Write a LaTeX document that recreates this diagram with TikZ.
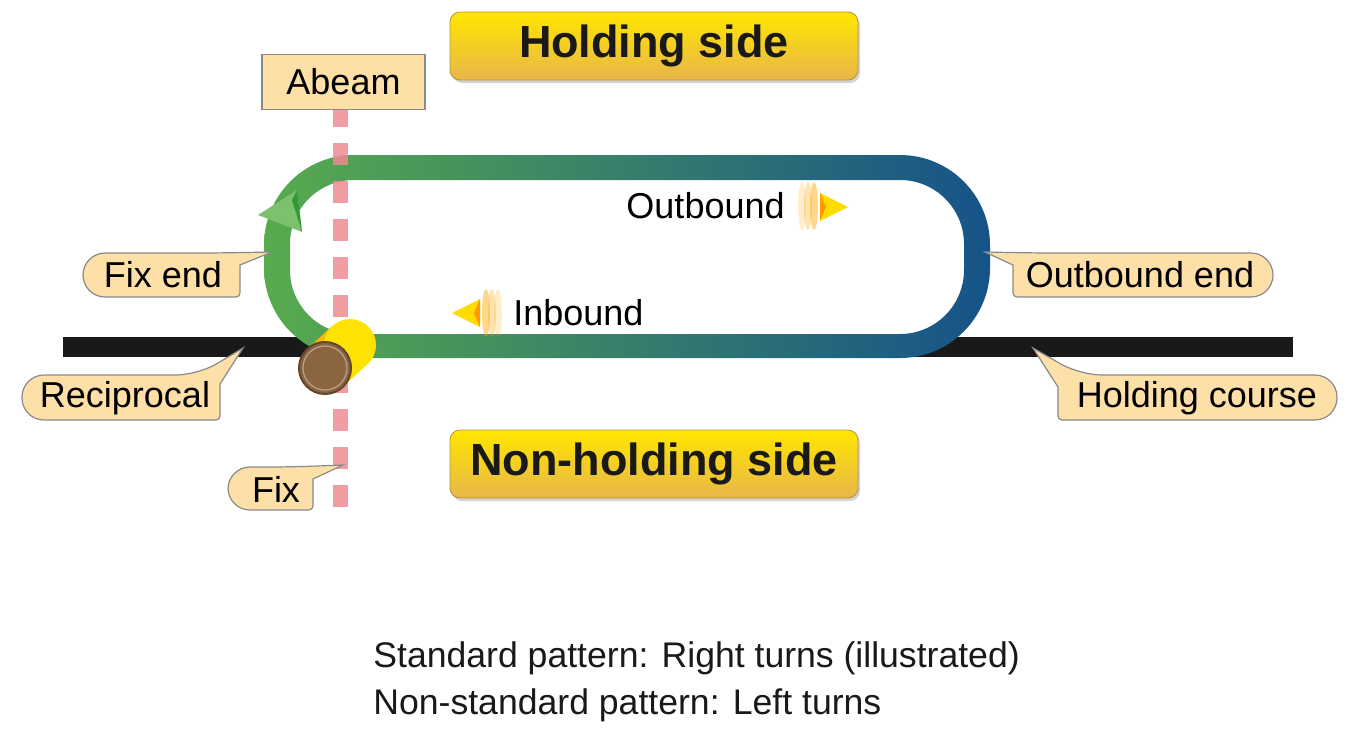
\documentclass[tikz,border=0pt]{standalone}
\usepackage{fontspec}
\setmainfont{Liberation Sans}
\usetikzlibrary{shadows}
\definecolor{tg}{HTML}{5CB04A}
\definecolor{tb}{HTML}{0F4A8F}
\definecolor{cfill}{HTML}{FDDFA8}
\definecolor{cbord}{HTML}{8A8A8A}
\definecolor{rdash}{HTML}{EE8A92}
\definecolor{ytop}{HTML}{FFE600}
\definecolor{ybot}{HTML}{E8B64A}
\definecolor{brn}{HTML}{8B6440}
\pgfdeclarehorizontalshading{track}{100bp}{color(0bp)=(tg); color(22bp)=(tg); color(80bp)=(tb); color(100bp)=(tb)}
\begin{document}
\begin{tikzpicture}[x=0.5pt,y=-0.5pt,
  callout/.style={fill=cfill,draw=cbord,line width=0.6pt},
  lbl/.style={font=\fontsize{18}{21}\selectfont,inner sep=0pt},
  side/.style={rounded corners=5pt,top color=ytop,bottom color=ybot,draw=ybot!80!black,line width=0.4pt,drop shadow={shadow xshift=1pt,shadow yshift=-1.5pt,opacity=0.35}},
  sidetxt/.style={font=\fontsize{22.5}{26}\selectfont\bfseries,text=black!90}]
\useasboundingbox (0,0) rectangle (1356,736);
% holding course
\fill[black!90] (63,337) rectangle (1293,357);
% track
\shade[shading=track,even odd rule,rounded corners=45pt] (264,155) rectangle (990,358) [rounded corners=32pt] (290,180) rectangle (964,334);
% arrowhead
\fill[tg!80!white] (258,215) -- (297,190) -- (302,232) -- cycle;
\fill[green!50!black!80] (297,190) -- (302,232) -- (292,200) -- cycle;
% abeam/fix line
\draw[rdash,opacity=0.85,line width=7.5pt,dash pattern=on 11pt off 8pt] (340,105) -- (340,510);
% fix cylinder
\shade[left color=orange!70!yellow,right color=yellow!90!orange] (342.6,387.1) -- (367.6,364.1) -- (332.4,325.9) -- (307.4,348.9) -- cycle;
\fill[yellow!85!orange] (350,345) circle[radius=13pt];
\fill[brn,draw=brn!70!black,line width=1pt] (325,368) circle[radius=13pt];
\draw[brn!60!white,line width=0.6pt] (325,368) circle[radius=11pt];
% abeam box
\node[fill=cfill,draw=cbord,line width=0.6pt,minimum width=81.5pt,minimum height=27.5pt,lbl] (abeam) at (343.5,82) {Abeam};
% side boxes
\node[side,minimum width=204pt,minimum height=34pt,sidetxt] (hs) at (654,46) {Holding side};
\node[side,minimum width=204pt,minimum height=34pt,sidetxt] (nhs) at (654,464) {Non-holding side};
% callouts (left)
\draw[callout] (218,253) -- (272,252) -- (240,265) [rounded corners=2pt] -- (240,297) [rounded corners=11pt] -- (83,297) -- (83,253) -- cycle;
\node[lbl] (fixend) at (163,275) {Fix end};
\draw[callout] (198,375) -- (243,348) -- (220,384) [rounded corners=2pt] -- (220,420) [rounded corners=11pt] -- (22,420) -- (22,375) -- cycle;
\node[lbl] (recip) at (125,398) {Reciprocal};
\draw[callout] (291,467) -- (343,465) -- (313,479) [rounded corners=2pt] -- (313,510) [rounded corners=11pt] -- (228,510) -- (228,467) -- cycle;
\node[lbl] (fix) at (276,489) {Fix};
% callouts (right)
\draw[callout] (1035,253) -- (985,252) -- (1013,265) [rounded corners=2pt] -- (1013,297) [rounded corners=11pt] -- (1273,297) -- (1273,253) -- cycle;
\node[lbl] (outend) at (1140,275) {Outbound end};
\draw[callout] (1080,375) -- (1033,348) -- (1058,387) [rounded corners=2pt] -- (1058,420) [rounded corners=11pt] -- (1337,420) -- (1337,375) -- cycle;
\node[lbl] (hcourse) at (1197,398) {Holding course};
% outbound / inbound
\node[lbl,anchor=east] (outb) at (785,206) {Outbound};
\foreach \x/\o in {802/0.2,808/0.3,814/0.45}{\fill[orange!70!yellow,opacity=\o] (\x,206) ellipse[x radius=2pt,y radius=12pt];}
\fill[ytop!90!orange] (820,193) -- (848,207) -- (820,221) -- cycle;
\fill[orange!80!yellow] (820,193) -- (826,207) -- (820,221) -- cycle;
\node[lbl,anchor=west] (inb) at (513,313) {Inbound};
\foreach \x/\o in {498/0.2,492/0.3,486/0.45}{\fill[orange!70!yellow,opacity=\o] (\x,313) ellipse[x radius=2pt,y radius=12pt];}
\fill[ytop!90!orange] (480,299) -- (452,313) -- (480,327) -- cycle;
\fill[orange!80!yellow] (480,299) -- (474,313) -- (480,327) -- cycle;
% bottom text
\node[anchor=base west,inner sep=0pt,font=\fontsize{17.8}{20}\selectfont,text=black!90] (t1) at (373,667) {Standard pattern: Right turns (illustrated)};
\node[anchor=base west,inner sep=0pt,font=\fontsize{17.8}{20}\selectfont,text=black!90] (t2) at (373,714) {Non-standard pattern: Left turns};
\end{tikzpicture}
\end{document}
